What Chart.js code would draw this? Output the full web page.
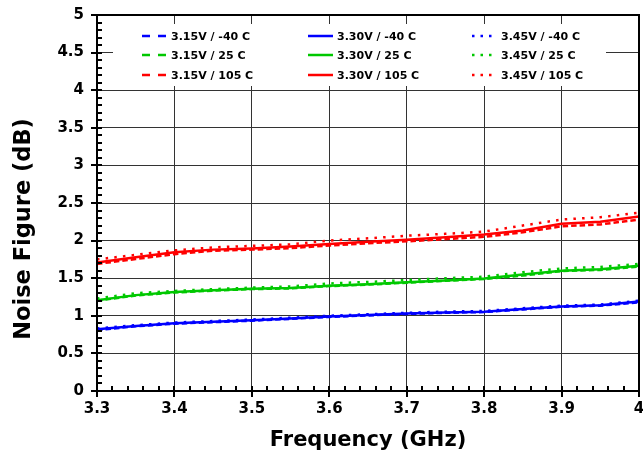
<!DOCTYPE html>
<html>
<head>
<meta charset="utf-8">
<script src="https://cdn.jsdelivr.net/npm/chart.js@4/dist/chart.umd.min.js"></script>
<style>
  html, body { margin: 0; padding: 0; background: #fff; }
  canvas { display: block; }
</style>
</head>
<body>
<canvas id="myChart" width="643" height="458"></canvas>
<script>
// frequency points (GHz)
const freq = [3.3, 3.35, 3.4, 3.45, 3.5, 3.55, 3.6, 3.65, 3.7, 3.75, 3.8, 3.85, 3.9, 3.95, 4.0];

// noise figure (dB)
const nf315m40 = [0.81, 0.86, 0.895, 0.915, 0.935, 0.96, 0.985, 1.005, 1.025, 1.04, 1.05, 1.085, 1.12, 1.135, 1.18];
const nf330m40 = [0.82, 0.865, 0.90, 0.92, 0.94, 0.965, 0.99, 1.01, 1.03, 1.045, 1.055, 1.09, 1.125, 1.14, 1.19];
const nf345m40 = [0.83, 0.875, 0.91, 0.93, 0.95, 0.975, 1.0, 1.02, 1.04, 1.055, 1.065, 1.10, 1.135, 1.15, 1.20];

const nf315p25 = [1.20, 1.27, 1.31, 1.335, 1.355, 1.365, 1.395, 1.415, 1.44, 1.465, 1.49, 1.535, 1.595, 1.61, 1.655];
const nf330p25 = [1.205, 1.275, 1.315, 1.34, 1.36, 1.37, 1.40, 1.42, 1.445, 1.47, 1.495, 1.55, 1.60, 1.62, 1.665];
const nf345p25 = [1.23, 1.30, 1.33, 1.355, 1.375, 1.39, 1.43, 1.45, 1.475, 1.50, 1.52, 1.58, 1.63, 1.65, 1.69];

const nf315p105 = [1.69, 1.755, 1.82, 1.865, 1.88, 1.90, 1.935, 1.965, 1.99, 2.02, 2.05, 2.11, 2.19, 2.215, 2.28];
const nf330p105 = [1.71, 1.78, 1.845, 1.88, 1.895, 1.92, 1.955, 1.985, 2.01, 2.045, 2.08, 2.135, 2.225, 2.25, 2.32];
const nf345p105 = [1.75, 1.81, 1.87, 1.91, 1.93, 1.95, 2.0, 2.03, 2.065, 2.09, 2.12, 2.20, 2.28, 2.31, 2.37];

const yTicks = [0, 0.5, 1, 1.5, 2, 2.5, 3, 3.5, 4, 4.5, 5];
const xTicks = [3.3, 3.4, 3.5, 3.6, 3.7, 3.8, 3.9, 4];

const BLUE = '#0000ff', GREEN = '#00c800', RED = '#ff0000';
const DASH = [5.5, 3], DOT = [2.5, 6.2];

// order: row = temperature, column = voltage (matches legend grid)
const series = [
  { label: '3.15V / -40 C',  data: nf315m40,  color: BLUE,  dash: DASH },
  { label: '3.30V / -40 C',  data: nf330m40,  color: BLUE,  dash: [] },
  { label: '3.45V / -40 C',  data: nf345m40,  color: BLUE,  dash: DOT },
  { label: '3.15V / 25 C',   data: nf315p25,  color: GREEN, dash: DASH },
  { label: '3.30V / 25 C',   data: nf330p25,  color: GREEN, dash: [] },
  { label: '3.45V / 25 C',   data: nf345p25,  color: GREEN, dash: DOT },
  { label: '3.15V / 105 C',  data: nf315p105, color: RED,   dash: DASH },
  { label: '3.30V / 105 C',  data: nf330p105, color: RED,   dash: [] },
  { label: '3.45V / 105 C',  data: nf345p105, color: RED,   dash: DOT }
];

Chart.defaults.font.family = '"DejaVu Sans", Verdana, sans-serif';
Chart.defaults.font.weight = 'bold';
Chart.defaults.color = '#000';

// box legend, frame, tick marks, y title
const extras = {
  id: 'extras',
  afterDraw(chart) {
    const c = chart.ctx;
    const a = chart.chartArea;
    const xs = chart.scales.x, ys = chart.scales.y;
    c.save();

    // legend
    c.fillStyle = '#fff';
    c.fillRect(113, 24, 493, 62);
    const colX = [142, 308, 472];
    const rowY = [36, 55, 75];
    c.font = 'bold 11px "DejaVu Sans", Verdana, sans-serif';
    c.textBaseline = 'middle';
    c.textAlign = 'left';
    chart.data.datasets.forEach((ds, i) => {
      const row = Math.floor(i / 3), col = i % 3;
      const x0 = colX[col], y0 = rowY[row];
      c.strokeStyle = ds.borderColor;
      c.lineWidth = 2.5;
      c.lineCap = 'butt';
      if (col === 0) c.setLineDash([8, 8]);
      else if (col === 2) c.setLineDash([2.5, 6]);
      else c.setLineDash([]);
      c.beginPath();
      c.moveTo(x0, y0);
      c.lineTo(x0 + 25, y0);
      c.stroke();
      c.setLineDash([]);
      c.fillStyle = '#000';
      c.fillText(ds.label, x0 + 29, y0 + 1);
    });

    // frame
    c.strokeStyle = '#000';
    c.lineWidth = 2;
    c.strokeRect(a.left, a.top, a.right - a.left, a.bottom - a.top);

    // ticks
    c.lineWidth = 2;
    c.beginPath();
    for (let k = 0; k <= 50; k++) {
      const py = Math.round(ys.getPixelForValue(k / 10));
      if (k % 5 === 0) { c.moveTo(a.left - 6, py); c.lineTo(a.left + 5, py); }
      else { c.moveTo(a.left, py); c.lineTo(a.left + 5, py); }
    }
    for (let k = 0; k <= 35; k++) {
      const px = Math.round(xs.getPixelForValue(3.3 + k * 0.02));
      if (k % 5 === 0) { c.moveTo(px, a.bottom + 6); c.lineTo(px, a.bottom - 5); }
      else { c.moveTo(px, a.bottom); c.lineTo(px, a.bottom - 5); }
    }
    c.stroke();

    // y axis title
    c.translate(24, 229);
    c.rotate(-Math.PI / 2);
    c.font = 'bold 22.5px "DejaVu Sans", Verdana, sans-serif';
    c.textAlign = 'center';
    c.textBaseline = 'middle';
    c.fillText('Noise Figure (dB)', 0, 0);
    c.restore();
  }
};

const ctx = document.getElementById('myChart');

const data = {
  datasets: series.map(s => ({
    label: s.label,
    data: freq.map((f, i) => ({ x: f, y: s.data[i] })),
    borderColor: s.color,
    backgroundColor: s.color,
    borderDash: s.dash,
    borderWidth: 2.5,
    pointRadius: 0,
    tension: 0,
    fill: false
  }))
};

const config = {
  type: 'line',
  data: data,
  options: {
    responsive: false,
    animation: false,
    layout: { padding: { top: 15, right: 4, left: 0, bottom: 0 } },
    plugins: {
      legend: { display: false },
      tooltip: { enabled: false }
    },
    scales: {
      x: {
        type: 'linear',
        min: 3.3,
        max: 4,
        afterBuildTicks: s => { s.ticks = xTicks.map(v => ({ value: v })); },
        afterFit: s => { s.height = 67; s.paddingLeft = 0; s.paddingRight = 0; },
        ticks: {
          padding: 9,
          font: { size: 15, weight: 'bold' },
          maxRotation: 0,
          autoSkip: false,
          callback: v => String(+v.toFixed(1))
        },
        grid: { color: '#333', lineWidth: 1, drawTicks: false },
        border: { display: false },
        title: {
          display: true,
          text: 'Frequency (GHz)',
          font: { size: 21, weight: 'bold' },
          padding: { top: 0, bottom: 5 }
        }
      },
      y: {
        min: 0,
        max: 5,
        afterBuildTicks: s => { s.ticks = yTicks.map(v => ({ value: v })); },
        afterFit: s => { s.width = 97; s.paddingTop = 0; s.paddingBottom = 0; },
        ticks: {
          padding: 13,
          font: { size: 15, weight: 'bold' },
          callback: v => String(+v.toFixed(1))
        },
        grid: { color: '#333', lineWidth: 1, drawTicks: false },
        border: { display: false }
      }
    }
  },
  plugins: [extras]
};

const myChart = new Chart(ctx, config);
</script>
</body>
</html>
